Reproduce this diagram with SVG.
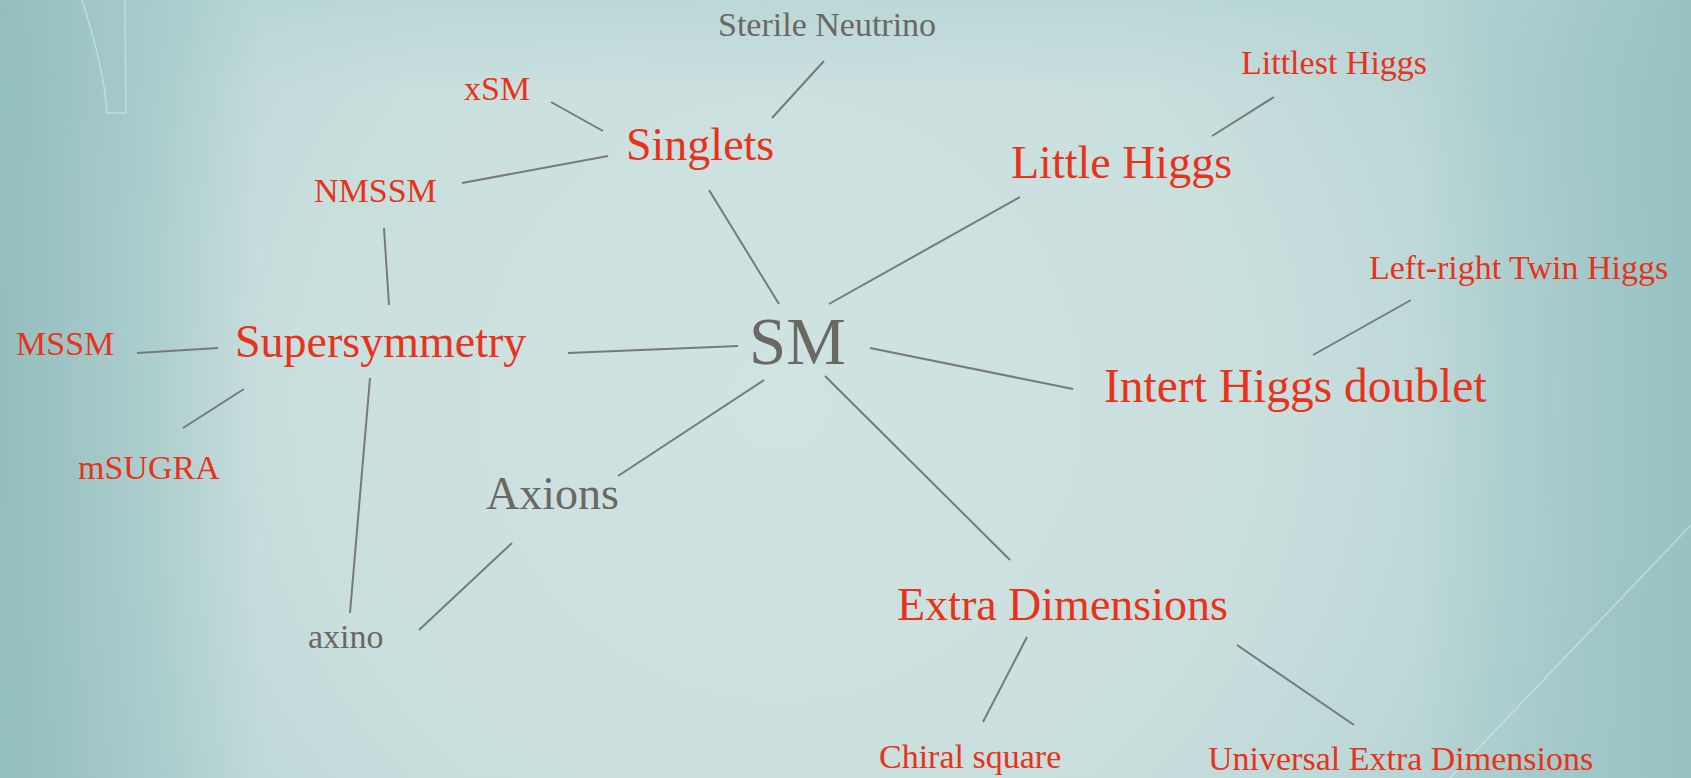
<svg xmlns="http://www.w3.org/2000/svg" width="1691" height="778" viewBox="0 0 1691 778">
  <defs>
    <radialGradient id="glow" cx="780" cy="400" r="900" gradientUnits="userSpaceOnUse">
      <stop offset="0" stop-color="#cfe3e2"/>
      <stop offset="0.55" stop-color="#c9dfde"/>
      <stop offset="1" stop-color="#acceCE"/>
    </radialGradient>
    <linearGradient id="leftEdge" x1="0" y1="0" x2="1" y2="0">
      <stop offset="0" stop-color="#90bcbc" stop-opacity="0.9"/>
      <stop offset="1" stop-color="#90bcbc" stop-opacity="0"/>
    </linearGradient>
    <linearGradient id="rightEdge" x1="0" y1="0" x2="1" y2="0">
      <stop offset="0" stop-color="#97c2c2" stop-opacity="0"/>
      <stop offset="1" stop-color="#97c2c2" stop-opacity="0.95"/>
    </linearGradient>
    <linearGradient id="topEdge" x1="0" y1="0" x2="0" y2="1">
      <stop offset="0" stop-color="#b7d5d5" stop-opacity="0.8"/>
      <stop offset="1" stop-color="#b7d5d5" stop-opacity="0"/>
    </linearGradient>
  </defs>
  <style>
    .red { fill: #e8321a; font-family: "Liberation Serif", "Times New Roman", serif; }
    .grey { fill: #6b6863; font-family: "Liberation Serif", "Times New Roman", serif; }
    .small { font-size: 34px; }
    .big { font-size: 46px; }
    .huge { font-size: 67px; }
    .conn line { stroke: #78797a; stroke-width: 2; stroke-linecap: butt; }
    .deco { fill: none; stroke: #e6f1f1; stroke-opacity: 0.5; stroke-width: 1.5; }
  </style>

  <!-- background -->
  <rect x="0" y="0" width="1691" height="778" fill="url(#glow)"/>
  <rect x="0" y="0" width="1691" height="90" fill="url(#topEdge)"/>
  <rect x="0" y="0" width="260" height="778" fill="url(#leftEdge)"/>
  <rect x="1420" y="0" width="271" height="778" fill="url(#rightEdge)"/>
  <path class="deco" d="M82 0 C95 40 105 80 107 113 L126 113 L125 0"/>
  <line class="deco" x1="1691" y1="525" x2="1450" y2="778"/>

  <g id="connectors" class="conn">
    <line x1="551" y1="102" x2="603" y2="131"/>
    <line x1="824" y1="61" x2="772" y2="118"/>
    <line x1="462" y1="183" x2="608" y2="156"/>
    <line x1="709" y1="190" x2="779" y2="304"/>
    <line x1="1020" y1="197" x2="829" y2="304"/>
    <line x1="1274" y1="97" x2="1212" y2="136"/>
    <line x1="384" y1="228" x2="389" y2="305"/>
    <line x1="137" y1="353" x2="218" y2="348"/>
    <line x1="568" y1="353" x2="738" y2="346"/>
    <line x1="183" y1="428" x2="244" y2="389"/>
    <line x1="370" y1="378" x2="350" y2="613"/>
    <line x1="419" y1="630" x2="512" y2="543"/>
    <line x1="618" y1="476" x2="764" y2="380"/>
    <line x1="870" y1="348" x2="1073" y2="389"/>
    <line x1="1411" y1="300" x2="1313" y2="355"/>
    <line x1="825" y1="376" x2="1010" y2="560"/>
    <line x1="1027" y1="637" x2="983" y2="722"/>
    <line x1="1237" y1="645" x2="1354" y2="725"/>
  </g>

  <g id="node-sm"><text class="grey huge" x="749" y="364">SM</text></g>
  <g id="node-singlets"><text class="red big" x="626" y="160">Singlets</text></g>
  <g id="node-sterile-neutrino"><text class="grey small" x="718" y="36">Sterile Neutrino</text></g>
  <g id="node-xsm"><text class="red small" x="464" y="100">xSM</text></g>
  <g id="node-nmssm"><text class="red small" x="314" y="202">NMSSM</text></g>
  <g id="node-little-higgs"><text class="red big" x="1011" y="178">Little Higgs</text></g>
  <g id="node-littlest-higgs"><text class="red small" x="1241" y="74">Littlest Higgs</text></g>
  <g id="node-lr-twin-higgs"><text class="red small" x="1369" y="279">Left-right Twin Higgs</text></g>
  <g id="node-intert-higgs"><text class="red big" x="1104" y="402" style="font-size:47.5px">Intert Higgs doublet</text></g>
  <g id="node-supersymmetry"><text class="red big" x="235" y="357">Supersymmetry</text></g>
  <g id="node-mssm"><text class="red small" x="16" y="355">MSSM</text></g>
  <g id="node-msugra"><text class="red small" x="78" y="479">mSUGRA</text></g>
  <g id="node-axions"><text class="grey big" x="486" y="509">Axions</text></g>
  <g id="node-axino"><text class="grey small" x="308" y="648">axino</text></g>
  <g id="node-extra-dimensions"><text class="red big" x="897" y="620">Extra Dimensions</text></g>
  <g id="node-chiral-square"><text class="red small" x="879" y="768">Chiral square</text></g>
  <g id="node-ued"><text class="red small" x="1208" y="770">Universal Extra Dimensions</text></g>
</svg>
